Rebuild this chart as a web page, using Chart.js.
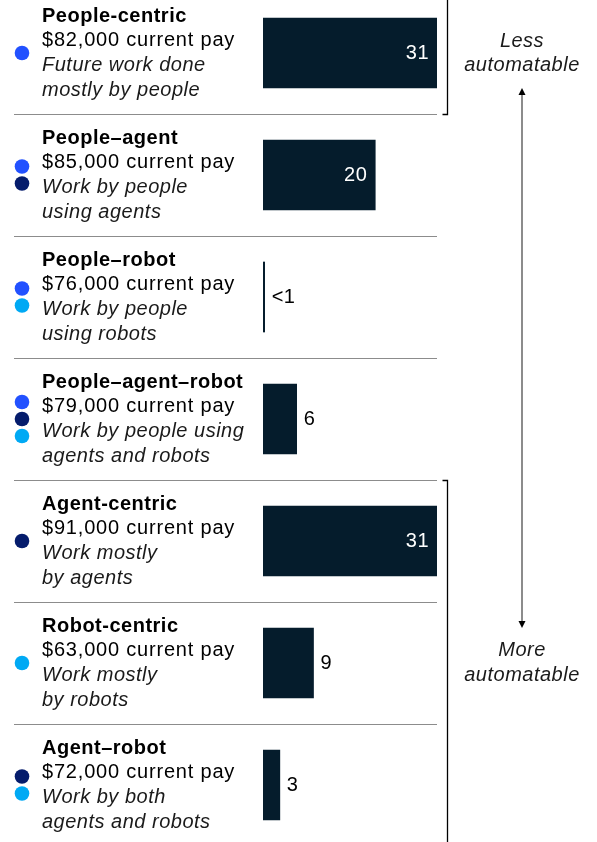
<!DOCTYPE html>
<html>
<head>
<meta charset="utf-8">
<script src="https://cdn.jsdelivr.net/npm/chart.js@4"></script>
<style>
  html, body { margin: 0; padding: 0; background: #fff; overflow: hidden; }
  .wrap { position: absolute; left: 0; top: -8px; width: 597px; height: 854px; }
</style>
</head>
<body>
<div class="wrap"><canvas class="my-chart"></canvas></div>
<script>
const categories = ["People-centric", "People–agent", "People–robot", "People–agent–robot", "Agent-centric", "Robot-centric", "Agent–robot"];
const currentPay = ["$82,000", "$85,000", "$76,000", "$79,000", "$91,000", "$63,000", "$72,000"];
const descriptions = [
  ["Future work done", "mostly by people"],
  ["Work by people", "using agents"],
  ["Work by people", "using robots"],
  ["Work by people using", "agents and robots"],
  ["Work mostly", "by agents"],
  ["Work mostly", "by robots"],
  ["Work by both", "agents and robots"],
];
const shareValues = [31, 20, 0.3, 6, 31, 9, 3];
const valueLabels = ["31", "20", "<1", "6", "31", "9", "3"];
const workers = [
  ["people"],
  ["people", "agent"],
  ["people", "robot"],
  ["people", "agent", "robot"],
  ["agent"],
  ["robot"],
  ["agent", "robot"],
];
const dotColors = { people: "#2251ff", agent: "#051c6c", robot: "#00a9f4" };

const FONT = '"Liberation Sans", Arial, sans-serif';

// text rows, dots, separators, value labels and the right-hand scale
const rowText = {
  id: "rowText",
  afterDatasetsDraw(chart) {
    const ctx = chart.ctx;
    const y = chart.scales.y;
    const area = chart.chartArea;
    const meta = chart.getDatasetMeta(0);
    const band = y.getPixelForValue(1) - y.getPixelForValue(0);
    ctx.save();
    ctx.textBaseline = "middle";

    categories.forEach((cat, i) => {
      const cy = y.getPixelForValue(i);
      ctx.textAlign = "left";
      ctx.fillStyle = "#000";
      ctx.letterSpacing = "0.5px";
      ctx.font = "bold 20px " + FONT;
      ctx.fillText(cat, 42, cy - 37);
      ctx.letterSpacing = "0.8px";
      ctx.font = "20px " + FONT;
      ctx.fillText(currentPay[i] + " current pay", 42, cy - 13);
      ctx.letterSpacing = "0.5px";
      ctx.fillStyle = "#1a1a1a";
      ctx.font = "italic 20px " + FONT;
      ctx.fillText(descriptions[i][0], 42, cy + 12);
      ctx.fillText(descriptions[i][1], 42, cy + 37);

      const w = workers[i];
      w.forEach((k, j) => {
        ctx.fillStyle = dotColors[k];
        ctx.beginPath();
        ctx.arc(22, cy + (j - (w.length - 1) / 2) * 17, 7.3, 0, Math.PI * 2);
        ctx.fill();
      });

      if (i < categories.length - 1) {
        const sy = Math.round(cy + band / 2) + 0.5;
        ctx.strokeStyle = "#8c8c8c";
        ctx.lineWidth = 1;
        ctx.beginPath();
        ctx.moveTo(14, sy);
        ctx.lineTo(area.right, sy);
        ctx.stroke();
      }

      const bar = meta.data[i];
      ctx.font = "20px " + FONT;
      if (shareValues[i] >= 15) {
        ctx.fillStyle = "#fff";
        ctx.textAlign = "right";
        ctx.fillText(valueLabels[i], bar.x - 8, cy);
      } else {
        ctx.fillStyle = "#000";
        ctx.textAlign = "left";
        ctx.fillText(valueLabels[i], bar.x + 7, cy);
      }
    });

    // brackets
    const bx = area.right + 10.5;
    const sep0 = Math.round(y.getPixelForValue(0) + band / 2) + 0.5;
    const sep3 = Math.round(y.getPixelForValue(3) + band / 2) + 0.5;
    ctx.strokeStyle = "#000";
    ctx.lineWidth = 1.3;
    ctx.beginPath();
    ctx.moveTo(bx, 0);
    ctx.lineTo(bx, sep0);
    ctx.lineTo(bx - 5, sep0);
    ctx.moveTo(bx - 5, sep3);
    ctx.lineTo(bx, sep3);
    ctx.lineTo(bx, chart.height);
    ctx.stroke();

    // arrow
    const ax = area.right + 85;
    const top = y.getPixelForValue(0) + 35;
    const bottom = y.getPixelForValue(5) - 35;
    ctx.strokeStyle = "#666";
    ctx.lineWidth = 1.5;
    ctx.beginPath();
    ctx.moveTo(ax, top + 5);
    ctx.lineTo(ax, bottom - 5);
    ctx.stroke();
    ctx.fillStyle = "#000";
    ctx.beginPath();
    ctx.moveTo(ax, top);
    ctx.lineTo(ax - 3.5, top + 7);
    ctx.lineTo(ax + 3.5, top + 7);
    ctx.closePath();
    ctx.fill();
    ctx.beginPath();
    ctx.moveTo(ax, bottom);
    ctx.lineTo(ax - 3.5, bottom - 7);
    ctx.lineTo(ax + 3.5, bottom - 7);
    ctx.closePath();
    ctx.fill();

    ctx.letterSpacing = "0.5px";
    ctx.fillStyle = "#1a1a1a";
    ctx.font = "italic 20px " + FONT;
    ctx.textAlign = "center";
    const c0 = y.getPixelForValue(0);
    const c5 = y.getPixelForValue(5);
    ctx.fillText("Less", ax, c0 - 12);
    ctx.fillText("automatable", ax, c0 + 12);
    ctx.fillText("More", ax, c5 - 13);
    ctx.fillText("automatable", ax, c5 + 12);
    ctx.restore();
  },
};

new Chart(document.querySelector(".my-chart"), {
  type: "bar",
  data: {
    labels: categories,
    datasets: [
      {
        label: "Share",
        data: shareValues,
        backgroundColor: "#051c2c",
        barThickness: 70,
        borderWidth: 0,
      },
    ],
  },
  options: {
    indexAxis: "y",
    responsive: true,
    maintainAspectRatio: false,
    animation: false,
    layout: { padding: { left: 263, right: 160, top: 0, bottom: 0 } },
    scales: {
      x: { display: false, min: 0, max: 31 },
      y: { display: false },
    },
    plugins: {
      legend: { display: false },
      tooltip: { enabled: false },
    },
  },
  plugins: [rowText],
});
</script>
</body>
</html>
